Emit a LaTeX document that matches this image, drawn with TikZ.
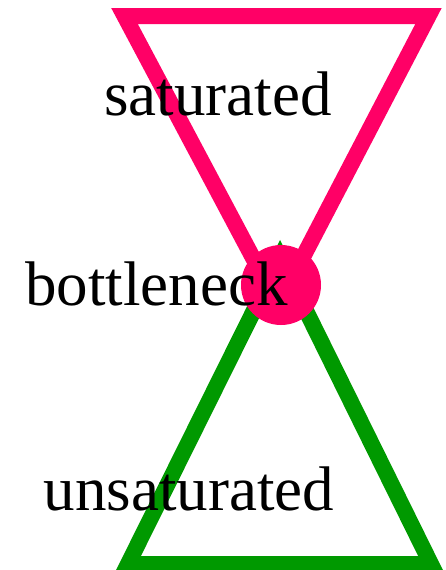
\documentclass[tikz,border=0pt]{standalone}
\usepackage{fontspec}
\setmainfont{Liberation Serif}
\definecolor{pinkc}{HTML}{FF0066}
\definecolor{greenc}{HTML}{009900}
\begin{document}
\begin{tikzpicture}[x=1pt,y=-1pt,
  tri/.style={line width=16pt, line join=miter, miter limit=10},
  lbl/.style={inner sep=0pt, anchor=base, font=\fontsize{63}{63}\selectfont}]
\useasboundingbox (0,0) rectangle (446,570);
\coordinate (p1) at (124.5,16);
\coordinate (p2) at (428.5,16);
\coordinate (p3) at (278,305);
\coordinate (g1) at (280,258);
\coordinate (g2) at (431,564);
\coordinate (g3) at (128,564);
\draw[tri, draw=pinkc] (p1) -- (p2) -- (p3) -- cycle;
\draw[tri, draw=greenc] (g1) -- (g2) -- (g3) -- cycle;
\node[circle, fill=pinkc, minimum size=80pt, inner sep=0pt] (neck) at (281,285) {};
\node[lbl] (sat) at (218,115) {saturated};
\node[lbl] (bot) at (156.5,305) {bottleneck};
\node[lbl] (uns) at (189,510) {unsaturated};
\end{tikzpicture}
\end{document}
